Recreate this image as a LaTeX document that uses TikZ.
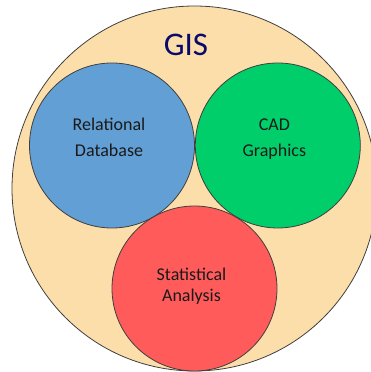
\documentclass[tikz,border=0pt]{standalone}
\usepackage{fontspec}
\setmainfont{Carlito}
\usetikzlibrary{positioning}

\definecolor{gisfill}{HTML}{FCDEAA}
\definecolor{gisnavy}{HTML}{0A0A6A}
\definecolor{dbblue}{HTML}{629FD5}
\definecolor{cadgreen}{HTML}{00CE6A}
\definecolor{statred}{HTML}{FF5B5B}
\definecolor{rimgray}{HTML}{3F3F3F}
\definecolor{labelgray}{HTML}{1A1A1A}

\tikzset{
  blob/.style={circle, draw=rimgray, line width=0.8pt, inner sep=0pt, minimum size=165pt},
  lbl/.style={align=center, text=labelgray, font=\fontsize{18}{26}\selectfont},
}

\begin{document}
\begin{tikzpicture}[x=1pt,y=1pt]
\useasboundingbox (0,0) rectangle (371,372);
% outer disc, cut off on the right
\node[blob, fill=gisfill, minimum size=365pt] (gis) at (194.5,183.5) {};
\node[font=\fontsize{33}{40}\selectfont, text=gisnavy, anchor=base] (gistitle) at (186,316) {GIS};
%----------------------------------
\node[blob, fill=dbblue] (rdb) at (112,226.5) {};
\node[blob, fill=cadgreen, right=0pt of rdb] (cad) {};
\node[blob, fill=statred] (stat) at (194.5,83.5) {};
%----------------------------------
\node[lbl] (rdbtxt) at ([xshift=-3pt,yshift=8pt]rdb.center) {Relational\\Database};
\node[lbl] (cadtxt) at ([xshift=-3.5pt,yshift=6pt]cad.center) {CAD\\Graphics};
\node[lbl, font=\fontsize{18}{21}\selectfont] (stattxt) at ([xshift=-3pt,yshift=2.5pt]stat.center) {Statistical\\Analysis};
\end{tikzpicture}
\end{document}
